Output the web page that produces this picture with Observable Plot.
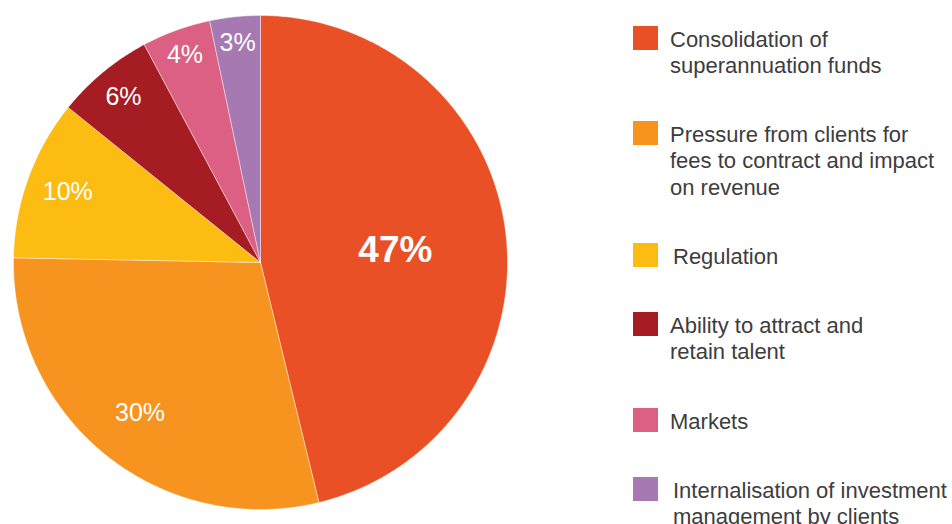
<!DOCTYPE html>
<html>
<head>
<meta charset="utf-8">
<script src="https://cdn.jsdelivr.net/npm/d3@7"></script>
<script src="https://cdn.jsdelivr.net/npm/@observablehq/plot@0.6"></script>
<style>
  html, body { margin: 0; padding: 0; background: #fff; overflow: hidden; }
  body { width: 952px; height: 524px; position: relative; font-family: "Liberation Sans", Arial, Helvetica, sans-serif; }
  #chart { position: absolute; left: 0; top: 0; }
  .item { position: absolute; left: 633px; display: flex; align-items: flex-start; }
  .sw { width: 25px; height: 24px; flex: none; }
  .lbl { font-size: 22px; line-height: 26.5px; color: #3d3d3d; white-space: pre-line; margin-top: 0.5px; }
</style>
</head>
<body>
<div id="chart"></div>
<div id="legend"></div>
<script>
const categories = [
  "Consolidation of\nsuperannuation funds",
  "Pressure from clients for\nfees to contract and impact\non revenue",
  "Regulation",
  "Ability to attract and\nretain talent",
  "Markets",
  "Internalisation of investment\nmanagement by clients"
];
const shares = [46.2, 29.1, 10.5, 6.4, 4.5, 3.3];
const labels = ["47%", "30%", "10%", "6%", "4%", "3%"];
const colors = ["#EA5025", "#F7931F", "#FDBC12", "#A51D23", "#DB6083", "#A779B2"];

// build slice geometry (angles clockwise from 12 o'clock) from the shares
const total = d3.sum(shares);
let acc = 0;
const slices = shares.map((v, i) => {
  const a0 = acc / total * 2 * Math.PI;
  acc += v;
  const a1 = acc / total * 2 * Math.PI;
  return {cat: categories[i], label: labels[i], share: v / total, a0, a1, mid: (a0 + a1) / 2};
});
const points = [];
for (const s of slices) {
  points.push({cat: s.cat, x: 0, y: 0});
  const n = Math.max(8, Math.ceil((s.a1 - s.a0) / (Math.PI / 360)));
  for (let k = 0; k <= n; k++) {
    const a = s.a0 + (s.a1 - s.a0) * k / n;
    points.push({cat: s.cat, x: Math.sin(a), y: Math.cos(a)});
  }
  points.push({cat: s.cat, x: 0, y: 0});
}
// label radius as a fraction of the pie radius, by slice size
const labelRadius = s => s.share > 0.4 ? 0.55 : s.share > 0.2 ? 0.78 : s.share > 0.08 ? 0.83 : s.share > 0.05 ? 0.87 : 0.895;
const labelPts = slices.map(s => {
  const r = labelRadius(s);
  return {label: s.label, big: s.share > 0.4, x: r * Math.sin(s.mid), y: r * Math.cos(s.mid)};
});

const plot = Plot.plot({
  width: 620,
  height: 524,
  margin: 0,
  style: {fontFamily: "'Liberation Sans', Arial, Helvetica, sans-serif", background: "transparent"},
  x: {domain: [-1, 1], range: [13, 507], axis: null},
  y: {domain: [-1, 1], range: [509, 15], axis: null},
  color: {type: "ordinal", domain: categories, range: colors},
  marks: [
    Plot.line(points, {x: "x", y: "y", z: "cat", fill: "cat", stroke: "white", strokeWidth: 0.6, strokeOpacity: 0.7, curve: "linear"}),
    Plot.text(labelPts.filter(d => !d.big), {x: "x", y: "y", text: "label", fill: "white", fontSize: 25, lineAnchor: "middle"}),
    Plot.text(labelPts.filter(d => d.big), {x: "x", y: "y", text: "label", fill: "white", fontSize: 37, fontWeight: "bold", lineAnchor: "middle", dy: 4})
  ]
});
document.getElementById("chart").appendChild(plot);

// legend (layout only)
const tops = [26, 121, 243, 312, 408, 477];
const textLeft = [12, 12, 15, 12, 12, 15];
const legend = document.getElementById("legend");
categories.forEach((c, i) => {
  const item = document.createElement("div");
  item.className = "item";
  item.style.top = tops[i] + "px";
  const sw = document.createElement("div");
  sw.className = "sw";
  sw.style.background = colors[i];
  const t = document.createElement("div");
  t.className = "lbl";
  t.style.marginLeft = textLeft[i] + "px";
  t.textContent = c;
  item.appendChild(sw);
  item.appendChild(t);
  legend.appendChild(item);
});
</script>
</body>
</html>
